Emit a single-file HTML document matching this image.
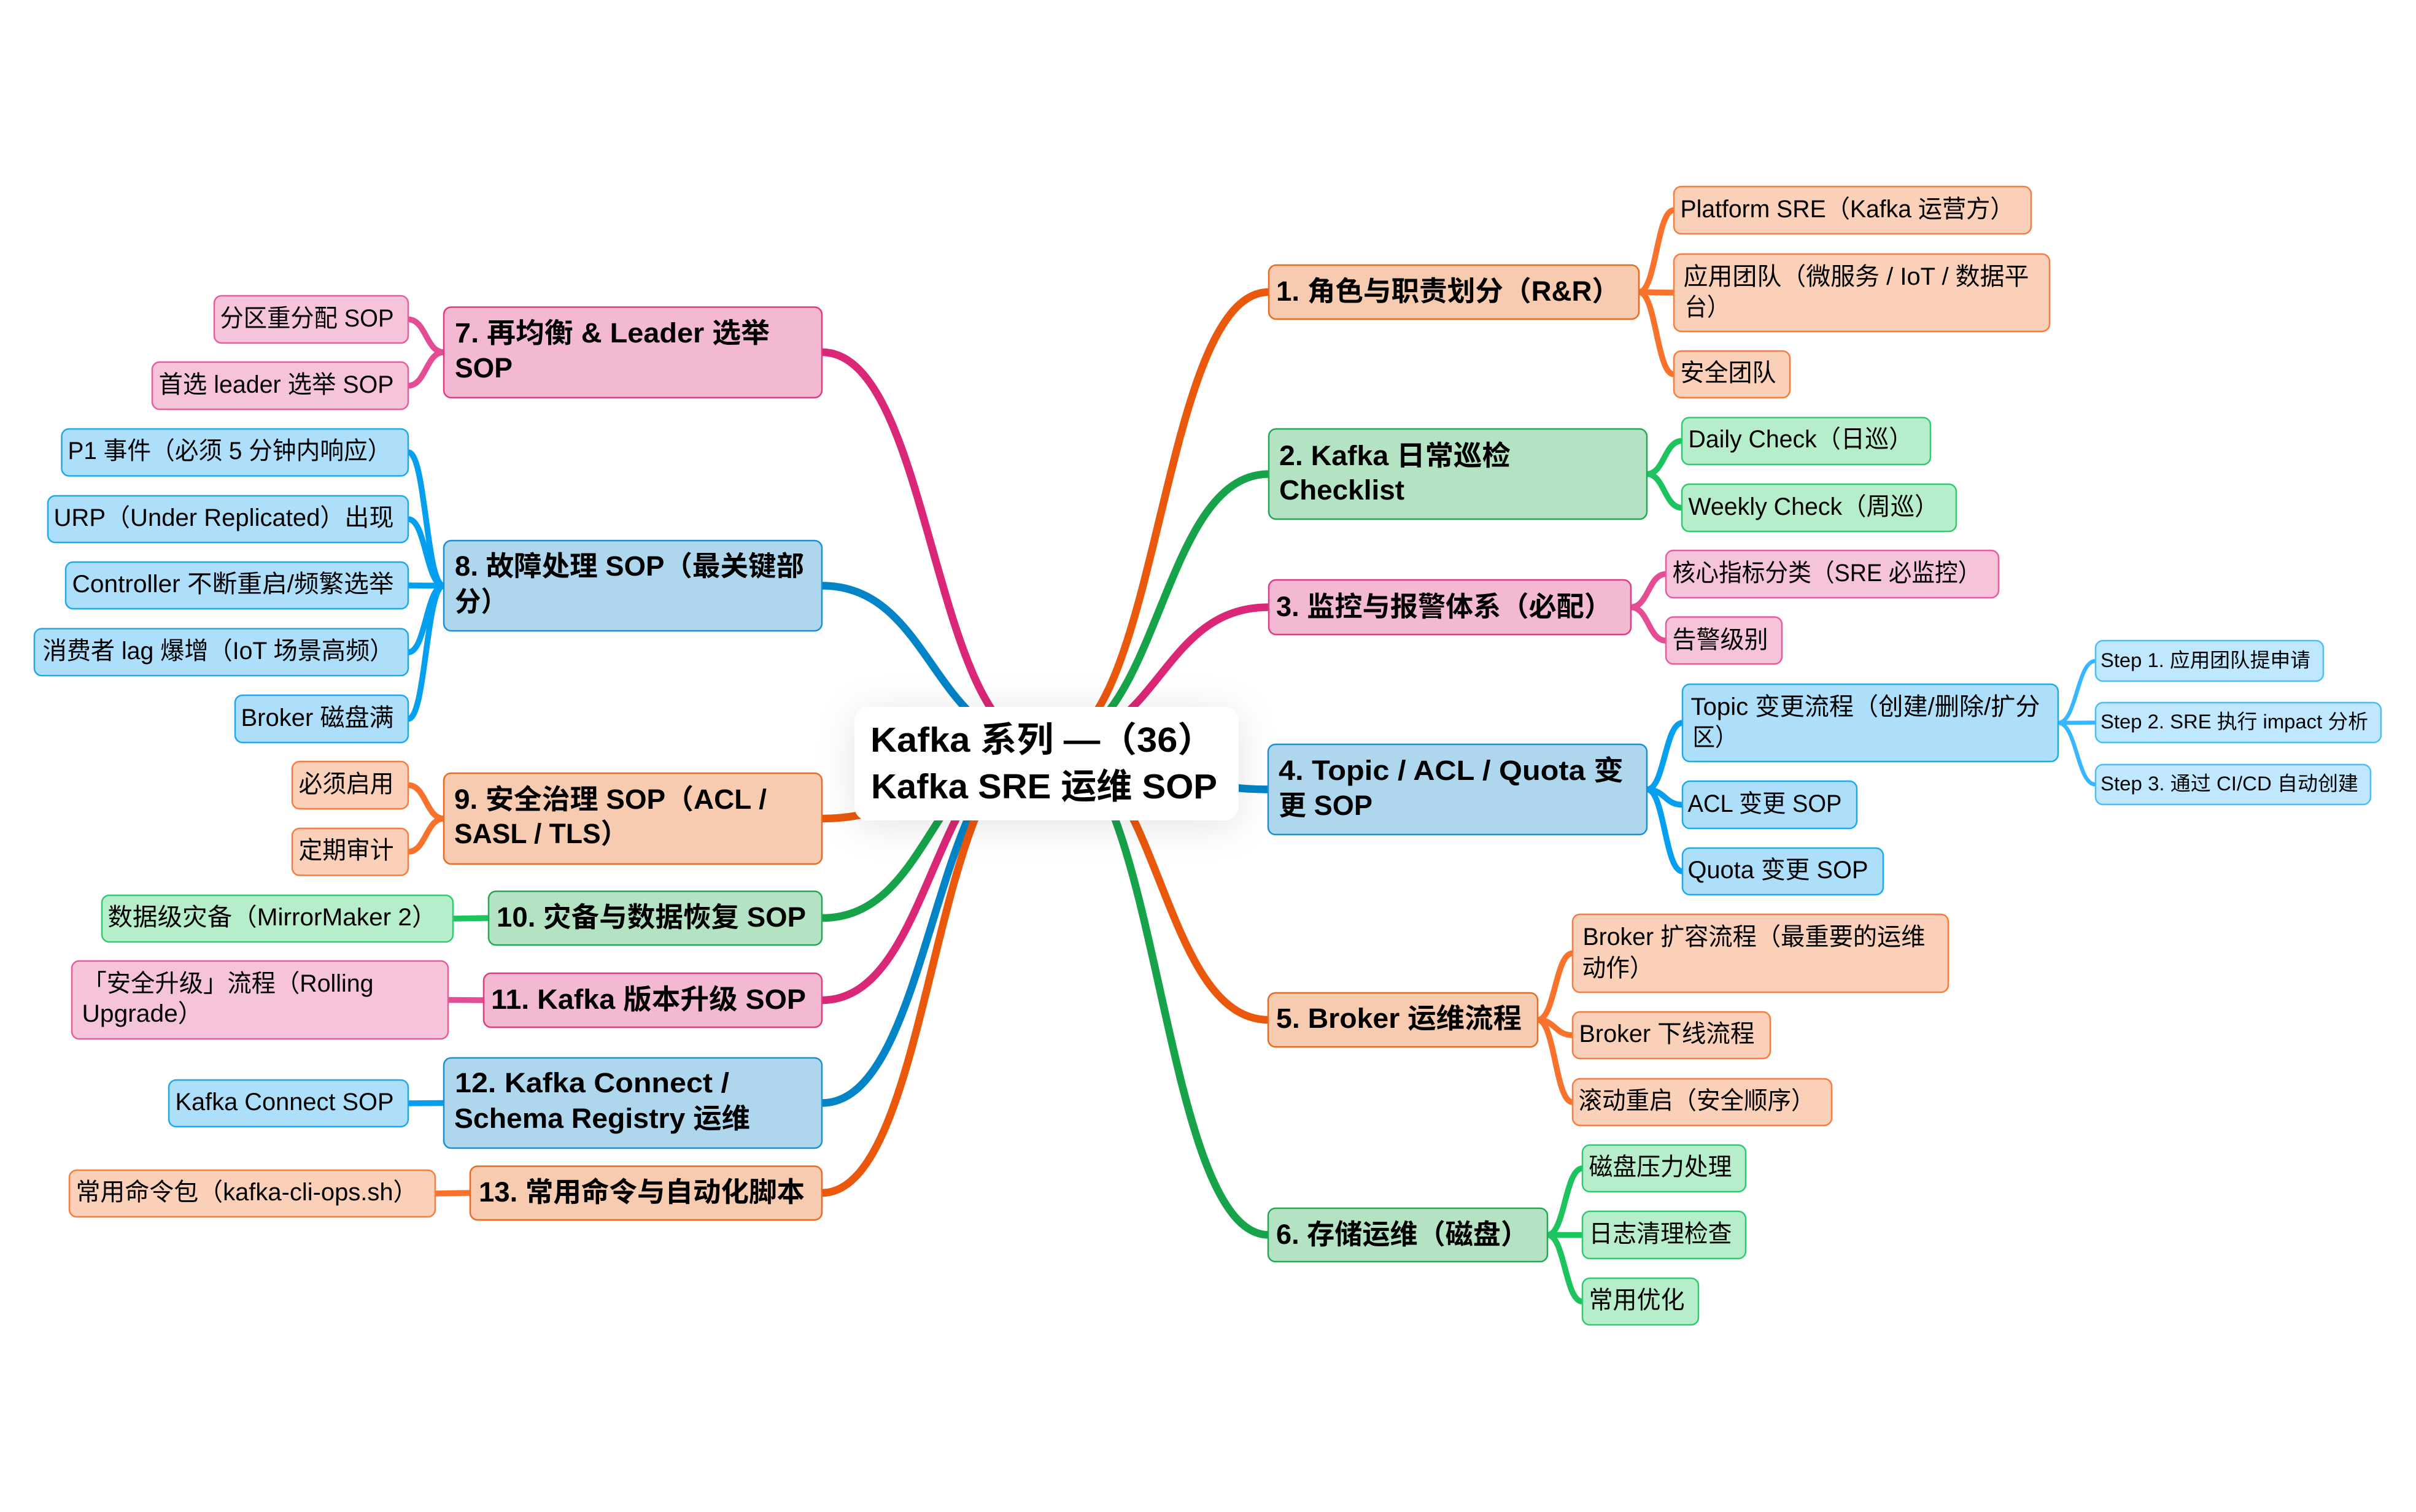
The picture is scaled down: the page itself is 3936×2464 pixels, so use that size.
<!DOCTYPE html>
<html lang="zh-CN">
<head>
<meta charset="utf-8">
<title>Kafka SRE 运维 SOP</title>
<style>
html,body{margin:0;padding:0;background:#fff;width:3936px;height:2464px;overflow:hidden}
svg{display:block}
text{font-family:"Liberation Sans","Noto Sans CJK SC",sans-serif;fill:#000;white-space:pre}
.c{font-size:57px;font-weight:700}
.a{font-size:45px;font-weight:700;transform:translate(1px,-2px)}
.b{font-size:40px;transform:translate(.5px,-2px)}
.s{font-size:32.5px;transform:translate(2px,-1px)}
path{fill:none;stroke-linecap:butt}
.e1{stroke-width:12.5}
.e2{stroke-width:9.5}
.e3{stroke-width:6.5}
.or1{stroke:#ea580c}.gr1{stroke:#16a34a}.pk1{stroke:#db2777}.bl1{stroke:#0284c7}
.or2{stroke:#f8722c}.gr2{stroke:#1cc35f}.pk2{stroke:#e44d94}.bl2{stroke:#059ff0}.st{stroke:#38b6ff}
rect{stroke-width:2.5}
.nor1{fill:#f7cbb0;stroke:#ea6a20}.ngr1{fill:#b4e3c4;stroke:#22a855}.npk1{fill:#f3b9d3;stroke:#df3a86}.nbl1{fill:#aed7ee;stroke:#1b90d0}
.nor2{fill:#fbd0b9;stroke:#f87c3c}.ngr2{fill:#b6edca;stroke:#2fcb6e}.npk2{fill:#f6c4da;stroke:#e85c9f}.nbl2{fill:#aedffa;stroke:#1fa8ee}
.nst{fill:#bfe8ff;stroke:#4cbdf8}
</style>
</head>
<body>
<svg xmlns="http://www.w3.org/2000/svg" width="3936" height="2464" viewBox="0 0 3936 2464">
<!-- root edges right -->
<path class="e1 or1" d="M1712 1212C1889.5 1212 1889.5 476 2067 476"/>
<path class="e1 gr1" d="M1712 1212C1889.5 1212 1889.5 772.5 2067 772.5"/>
<path class="e1 pk1" d="M1712 1212C1889.5 1212 1889.5 989.5 2067 989.5"/>
<path class="e1 bl1" d="M1712 1212C1889.5 1212 1889.5 1286.5 2067 1286.5"/>
<path class="e1 or1" d="M1712 1212C1889.5 1212 1889.5 1662 2067 1662"/>
<path class="e1 gr1" d="M1712 1212C1889.5 1212 1889.5 2012.5 2067 2012.5"/>
<!-- root edges left -->
<path class="e1 pk1" d="M1698 1212C1518.5 1212 1518.5 574 1339 574"/>
<path class="e1 bl1" d="M1698 1212C1518.5 1212 1518.5 954.5 1339 954.5"/>
<path class="e1 or1" d="M1698 1212C1518.5 1212 1518.5 1334 1339 1334"/>
<path class="e1 gr1" d="M1698 1212C1518.5 1212 1518.5 1496 1339 1496"/>
<path class="e1 pk1" d="M1698 1212C1518.5 1212 1518.5 1630 1339 1630"/>
<path class="e1 bl1" d="M1698 1212C1518.5 1212 1518.5 1797.5 1339 1797.5"/>
<path class="e1 or1" d="M1698 1212C1518.5 1212 1518.5 1944 1339 1944"/>
<!-- child edges right -->
<path class="e2 or2" d="M2670 476C2698.5 476 2698.5 342.5 2727 342.5"/>
<path class="e2 or2" d="M2670 476L2727 477"/>
<path class="e2 or2" d="M2670 476C2698.5 476 2698.5 610 2727 610"/>
<path class="e2 gr2" d="M2683 772.5C2711.5 772.5 2711.5 718.5 2740 718.5"/>
<path class="e2 gr2" d="M2683 772.5C2711.5 772.5 2711.5 827.5 2740 827.5"/>
<path class="e2 pk2" d="M2657 989.5C2685.5 989.5 2685.5 935.5 2714 935.5"/>
<path class="e2 pk2" d="M2657 989.5C2685.5 989.5 2685.5 1044 2714 1044"/>
<path class="e2 bl2" d="M2683 1286.5C2712 1286.5 2712 1178 2741 1178"/>
<path class="e2 bl2" d="M2683 1286.5C2712 1286.5 2712 1311.5 2741 1311.5"/>
<path class="e2 bl2" d="M2683 1286.5C2712 1286.5 2712 1420 2741 1420"/>
<path class="e3 st" d="M3353 1178C3383.5 1178 3383.5 1077 3414 1077"/>
<path class="e3 st" d="M3353 1178L3414 1177.5"/>
<path class="e3 st" d="M3353 1178C3383.5 1178 3383.5 1278.5 3414 1278.5"/>
<path class="e2 or2" d="M2505 1662C2533.5 1662 2533.5 1553.5 2562 1553.5"/>
<path class="e2 or2" d="M2505 1662C2533.5 1662 2533.5 1687 2562 1687"/>
<path class="e2 or2" d="M2505 1662C2533.5 1662 2533.5 1796 2562 1796"/>
<path class="e2 gr2" d="M2521 2012.5C2549.5 2012.5 2549.5 1904 2578 1904"/>
<path class="e2 gr2" d="M2521 2012.5L2578 2012.5"/>
<path class="e2 gr2" d="M2521 2012.5C2549.5 2012.5 2549.5 2121 2578 2121"/>
<!-- child edges left -->
<path class="e2 pk2" d="M723 574C694 574 694 520.5 665 520.5"/>
<path class="e2 pk2" d="M723 574C694 574 694 628.5 665 628.5"/>
<path class="e2 bl2" d="M723 954.5C694 954.5 694 737 665 737"/>
<path class="e2 bl2" d="M723 954.5C694 954.5 694 846 665 846"/>
<path class="e2 bl2" d="M723 954.5L665 954"/>
<path class="e2 bl2" d="M723 954.5C694 954.5 694 1063 665 1063"/>
<path class="e2 bl2" d="M723 954.5C694 954.5 694 1171.5 665 1171.5"/>
<path class="e2 or2" d="M723 1334C694 1334 694 1279.5 665 1279.5"/>
<path class="e2 or2" d="M723 1334C694 1334 694 1388 665 1388"/>
<path class="e2 gr2" d="M796 1496L738 1497"/>
<path class="e2 pk2" d="M788 1630L730 1629.5"/>
<path class="e2 bl2" d="M723 1797.5L665 1798"/>
<path class="e2 or2" d="M766 1944L709 1945"/>

<!-- center -->
<rect x="1392" y="1152" width="626" height="185" rx="22" fill="#fff" stroke="none" style="filter:drop-shadow(0 8px 30px rgba(0,0,0,.11))"/>
<text class="c" x="1418" y="1225" textLength="560" lengthAdjust="spacingAndGlyphs">Kafka 系列 —（36）</text>
<text class="c" x="1419" y="1301" textLength="564" lengthAdjust="spacingAndGlyphs">Kafka SRE 运维 SOP</text>

<!-- level 1 right -->
<rect class="nor1" x="2067" y="432" width="603" height="88" rx="12"/>
<text class="a" x="2078" y="492" textLength="560" lengthAdjust="spacingAndGlyphs">1. 角色与职责划分（R&amp;R）</text>
<rect class="ngr1" x="2067" y="699" width="616" height="147" rx="12"/>
<text class="a" x="2083" y="760" textLength="377" lengthAdjust="spacingAndGlyphs">2. Kafka 日常巡检</text>
<text class="a" x="2083" y="816" textLength="204" lengthAdjust="spacingAndGlyphs">Checklist</text>
<rect class="npk1" x="2067" y="945" width="590" height="89" rx="12"/>
<text class="a" x="2078" y="1006" textLength="547" lengthAdjust="spacingAndGlyphs">3. 监控与报警体系（必配）</text>
<rect class="nbl1" x="2066" y="1213" width="617" height="147" rx="12"/>
<text class="a" x="2082" y="1273" textLength="562" lengthAdjust="spacingAndGlyphs">4. Topic / ACL / Quota 变</text>
<text class="a" x="2082" y="1330" textLength="153" lengthAdjust="spacingAndGlyphs">更 SOP</text>
<rect class="nor1" x="2066" y="1618" width="439" height="88" rx="12"/>
<text class="a" x="2078" y="1677" textLength="400" lengthAdjust="spacingAndGlyphs">5. Broker 运维流程</text>
<rect class="ngr1" x="2066" y="1969" width="455" height="87" rx="12"/>
<text class="a" x="2078" y="2029" textLength="411" lengthAdjust="spacingAndGlyphs">6. 存储运维（磁盘）</text>

<!-- level 1 left -->
<rect class="npk1" x="723" y="500.5" width="616" height="147.5" rx="12"/>
<text class="a" x="740" y="560" textLength="513" lengthAdjust="spacingAndGlyphs">7. 再均衡 &amp; Leader 选举</text>
<text class="a" x="740" y="617" textLength="94" lengthAdjust="spacingAndGlyphs">SOP</text>
<rect class="nbl1" x="723" y="881" width="616" height="147" rx="12"/>
<text class="a" x="740" y="940" textLength="569" lengthAdjust="spacingAndGlyphs">8. 故障处理 SOP（最关键部</text>
<text class="a" x="740" y="998" textLength="85" lengthAdjust="spacingAndGlyphs">分）</text>
<rect class="nor1" x="723" y="1260" width="616" height="148" rx="12"/>
<text class="a" x="739" y="1320" textLength="509" lengthAdjust="spacingAndGlyphs">9. 安全治理 SOP（ACL /</text>
<text class="a" x="739" y="1376" textLength="283" lengthAdjust="spacingAndGlyphs">SASL / TLS）</text>
<rect class="ngr1" x="796" y="1452.5" width="543" height="87.5" rx="12"/>
<text class="a" x="808" y="1512" textLength="504" lengthAdjust="spacingAndGlyphs">10. 灾备与数据恢复 SOP</text>
<rect class="npk1" x="788" y="1586" width="551" height="88" rx="12"/>
<text class="a" x="799" y="1646" textLength="513" lengthAdjust="spacingAndGlyphs">11. Kafka 版本升级 SOP</text>
<rect class="nbl1" x="723" y="1724" width="616" height="147" rx="12"/>
<text class="a" x="740" y="1782" textLength="447" lengthAdjust="spacingAndGlyphs">12. Kafka Connect /</text>
<text class="a" x="739" y="1840" textLength="482" lengthAdjust="spacingAndGlyphs">Schema Registry 运维</text>
<rect class="nor1" x="766" y="1900.5" width="573" height="87.5" rx="12"/>
<text class="a" x="779" y="1960" textLength="531" lengthAdjust="spacingAndGlyphs">13. 常用命令与自动化脚本</text>

<!-- level 2 right -->
<rect class="nor2" x="2727" y="304" width="582" height="77" rx="12"/>
<text class="b" x="2737" y="356" textLength="544" lengthAdjust="spacingAndGlyphs">Platform SRE（Kafka 运营方）</text>
<rect class="nor2" x="2727" y="414" width="612" height="126" rx="12"/>
<text class="b" x="2742" y="466" textLength="563" lengthAdjust="spacingAndGlyphs">应用团队（微服务 / IoT / 数据平</text>
<text class="b" x="2744" y="516" textLength="73" lengthAdjust="spacingAndGlyphs">台）</text>
<rect class="nor2" x="2727" y="572" width="189" height="76" rx="12"/>
<text class="b" x="2737" y="623" textLength="156" lengthAdjust="spacingAndGlyphs">安全团队</text>
<rect class="ngr2" x="2740" y="680.5" width="405" height="76.5" rx="12"/>
<text class="b" x="2750" y="731" textLength="366" lengthAdjust="spacingAndGlyphs">Daily Check（日巡）</text>
<rect class="ngr2" x="2740" y="789" width="447" height="77" rx="12"/>
<text class="b" x="2750" y="841" textLength="408" lengthAdjust="spacingAndGlyphs">Weekly Check（周巡）</text>
<rect class="npk2" x="2714" y="897" width="542" height="77" rx="12"/>
<text class="b" x="2724" y="949" textLength="503" lengthAdjust="spacingAndGlyphs">核心指标分类（SRE 必监控）</text>
<rect class="npk2" x="2714" y="1005.5" width="189" height="76.5" rx="12"/>
<text class="b" x="2724" y="1058" textLength="156" lengthAdjust="spacingAndGlyphs">告警级别</text>
<rect class="nbl2" x="2741" y="1115" width="612" height="126" rx="12"/>
<text class="b" x="2754" y="1167" textLength="569" lengthAdjust="spacingAndGlyphs">Topic 变更流程（创建/删除/扩分</text>
<text class="b" x="2757" y="1217" textLength="73" lengthAdjust="spacingAndGlyphs">区）</text>
<rect class="nbl2" x="2741" y="1273" width="284" height="77" rx="12"/>
<text class="b" x="2749" y="1325" textLength="251" lengthAdjust="spacingAndGlyphs">ACL 变更 SOP</text>
<rect class="nbl2" x="2741" y="1382" width="327" height="76" rx="12"/>
<text class="b" x="2749" y="1433" textLength="294" lengthAdjust="spacingAndGlyphs">Quota 变更 SOP</text>
<rect class="nst" x="3414" y="1044" width="371" height="66" rx="12"/>
<text class="s" x="3420" y="1088" textLength="342" lengthAdjust="spacingAndGlyphs">Step 1. 应用团队提申请</text>
<rect class="nst" x="3414" y="1145" width="465" height="65" rx="12"/>
<text class="s" x="3420" y="1188" textLength="436" lengthAdjust="spacingAndGlyphs">Step 2. SRE 执行 impact 分析</text>
<rect class="nst" x="3414" y="1246" width="448" height="65" rx="12"/>
<text class="s" x="3420" y="1289" textLength="420" lengthAdjust="spacingAndGlyphs">Step 3. 通过 CI/CD 自动创建</text>
<rect class="nor2" x="2562" y="1490" width="612" height="127" rx="12"/>
<text class="b" x="2578" y="1542" textLength="558" lengthAdjust="spacingAndGlyphs">Broker 扩容流程（最重要的运维</text>
<text class="b" x="2577" y="1593" textLength="116" lengthAdjust="spacingAndGlyphs">动作）</text>
<rect class="nor2" x="2562" y="1649" width="322" height="76" rx="12"/>
<text class="b" x="2572" y="1700" textLength="286" lengthAdjust="spacingAndGlyphs">Broker 下线流程</text>
<rect class="nor2" x="2562" y="1758" width="422" height="76" rx="12"/>
<text class="b" x="2571" y="1809" textLength="385" lengthAdjust="spacingAndGlyphs">滚动重启（安全顺序）</text>
<rect class="ngr2" x="2578" y="1866" width="266" height="76" rx="12"/>
<text class="b" x="2588" y="1917" textLength="233" lengthAdjust="spacingAndGlyphs">磁盘压力处理</text>
<rect class="ngr2" x="2578" y="1974" width="266" height="77" rx="12"/>
<text class="b" x="2588" y="2026" textLength="233" lengthAdjust="spacingAndGlyphs">日志清理检查</text>
<rect class="ngr2" x="2578" y="2083" width="189" height="76" rx="12"/>
<text class="b" x="2588" y="2134" textLength="156" lengthAdjust="spacingAndGlyphs">常用优化</text>

<!-- level 2 left -->
<rect class="npk2" x="349" y="482" width="316" height="77" rx="12"/>
<text class="b" x="358" y="534" textLength="283" lengthAdjust="spacingAndGlyphs">分区重分配 SOP</text>
<rect class="npk2" x="248" y="590" width="417" height="77" rx="12"/>
<text class="b" x="258" y="642" textLength="383" lengthAdjust="spacingAndGlyphs">首选 leader 选举 SOP</text>
<rect class="nbl2" x="100.5" y="699" width="564.5" height="76.5" rx="12"/>
<text class="b" x="110" y="750" textLength="527" lengthAdjust="spacingAndGlyphs">P1 事件（必须 5 分钟内响应）</text>
<rect class="nbl2" x="78" y="808" width="587" height="76" rx="12"/>
<text class="b" x="87" y="859" textLength="554" lengthAdjust="spacingAndGlyphs">URP（Under Replicated）出现</text>
<rect class="nbl2" x="107" y="916" width="558" height="76" rx="12"/>
<text class="b" x="117" y="967" textLength="524" lengthAdjust="spacingAndGlyphs">Controller 不断重启/频繁选举</text>
<rect class="nbl2" x="56" y="1024.5" width="609" height="76.5" rx="12"/>
<text class="b" x="69" y="1076" textLength="572" lengthAdjust="spacingAndGlyphs">消费者 lag 爆增（IoT 场景高频）</text>
<rect class="nbl2" x="383" y="1133" width="282" height="77" rx="12"/>
<text class="b" x="392" y="1185" textLength="249" lengthAdjust="spacingAndGlyphs">Broker 磁盘满</text>
<rect class="nor2" x="476" y="1241" width="189" height="77" rx="12"/>
<text class="b" x="486" y="1293" textLength="155" lengthAdjust="spacingAndGlyphs">必须启用</text>
<rect class="nor2" x="476" y="1350" width="189" height="76.5" rx="12"/>
<text class="b" x="486" y="1401" textLength="155" lengthAdjust="spacingAndGlyphs">定期审计</text>
<rect class="ngr2" x="166" y="1459" width="572" height="76" rx="12"/>
<text class="b" x="175" y="1510" textLength="536" lengthAdjust="spacingAndGlyphs">数据级灾备（MirrorMaker 2）</text>
<rect class="npk2" x="117" y="1566" width="613" height="127" rx="12"/>
<text class="b" x="134" y="1618" textLength="474" lengthAdjust="spacingAndGlyphs">「安全升级」流程（Rolling</text>
<text class="b" x="133" y="1667" textLength="197" lengthAdjust="spacingAndGlyphs">Upgrade）</text>
<rect class="nbl2" x="275" y="1760" width="390" height="76" rx="12"/>
<text class="b" x="285" y="1811" textLength="356" lengthAdjust="spacingAndGlyphs">Kafka Connect SOP</text>
<rect class="nor2" x="113" y="1907" width="596" height="76" rx="12"/>
<text class="b" x="123" y="1958" textLength="557" lengthAdjust="spacingAndGlyphs">常用命令包（kafka-cli-ops.sh）</text>
</svg>
</body>
</html>
